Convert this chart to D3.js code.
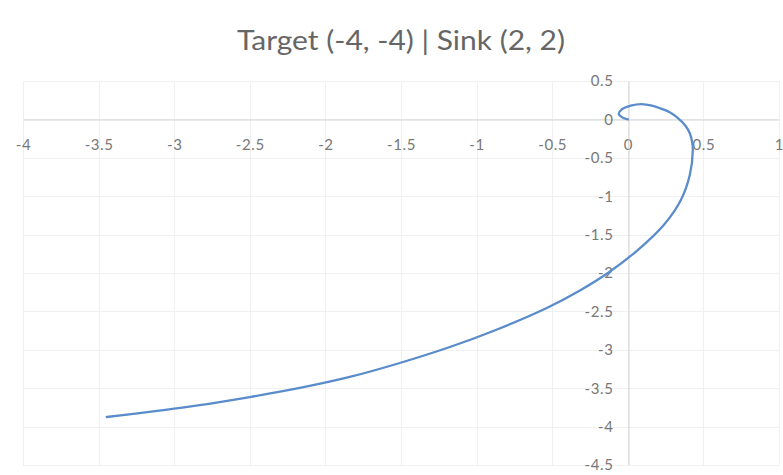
<!DOCTYPE html>
<html>
<head>
<meta charset="utf-8">
<script src="https://cdn.jsdelivr.net/npm/d3@7"></script>
<style>
  html, body { margin: 0; padding: 0; background: #fff; }
  svg { display: block; }
</style>
</head>
<body>
<svg id="chart" width="783" height="475"></svg>
<script>
// Trajectory of the particle, from the sink region out toward the target
const pathX = [0.00, -0.04, -0.06, -0.04, 0.02, 0.09, 0.16, 0.22, 0.28, 0.33, 0.38, 0.41, 0.425, 0.43, 0.41, 0.351, 0.238, 0.066, -0.132, -0.311, -0.536, -0.873, -1.177, -1.508, -1.839, -2.169, -2.50, -2.831, -3.446];
const pathY = [0.00, 0.03, 0.07, 0.13, 0.18, 0.20, 0.18, 0.14, 0.09, 0.02, -0.08, -0.18, -0.29, -0.398, -0.724, -1.049, -1.375, -1.701, -2.00, -2.221, -2.456, -2.742, -2.964, -3.172, -3.354, -3.497, -3.615, -3.719, -3.875];

const xTicks = [-4, -3.5, -3, -2.5, -2, -1.5, -1, -0.5, 0, 0.5, 1];
const yTicks = [0.5, 0, -0.5, -1, -1.5, -2, -2.5, -3, -3.5, -4, -4.5];

const titleText = "Target (-4, -4) | Sink (2, 2)";

const svg = d3.select("#chart");
const font = "Lato, 'Open Sans', sans-serif";

const x = d3.scaleLinear().domain([-4, 1]).range([23, 779]);
const y = d3.scaleLinear().domain([-4.5, 0.5]).range([465, 81]);

// gridlines
const grid = svg.append("g").attr("stroke", "#f0f0f0").attr("stroke-width", 1);
grid.selectAll("line.v").data(xTicks).join("line")
  .attr("x1", d => Math.round(x(d)) + 0.5).attr("x2", d => Math.round(x(d)) + 0.5)
  .attr("y1", y(0.5)).attr("y2", y(-4.5));
grid.selectAll("line.h").data(yTicks).join("line")
  .attr("y1", d => Math.round(y(d)) + 0.5).attr("y2", d => Math.round(y(d)) + 0.5)
  .attr("x1", x(-4)).attr("x2", x(1));

// axes crossing at the origin
const xAxis = d3.axisBottom(x).tickValues(xTicks).tickSize(0).tickPadding(20)
  .tickFormat(d => String(d));
const yAxis = d3.axisLeft(y).tickValues(yTicks).tickSize(0).tickPadding(15)
  .tickFormat(d => String(d));

const gx = svg.append("g").attr("transform", `translate(0,${Math.round(y(0)) + 0.5})`).call(xAxis);
const gy = svg.append("g").attr("transform", `translate(${Math.round(x(0)) + 0.5},0)`).call(yAxis);
[gx, gy].forEach(g => {
  g.select(".domain").attr("stroke", "#d4d4d4").attr("stroke-width", 1);
  g.selectAll("text")
    .attr("fill", "#787878")
    .attr("font-family", font)
    .attr("font-size", 15)
    .attr("letter-spacing", 0.6);
});

// trajectory line
const pts = pathX.map((v, i) => [v, pathY[i]]);
const line = d3.line().x(d => x(d[0])).y(d => y(d[1])).curve(d3.curveCatmullRom.alpha(0.5));
svg.append("path").datum(pts)
  .attr("d", line)
  .attr("fill", "none")
  .attr("stroke", "#5a8ccb")
  .attr("stroke-width", 2.3)
  .attr("stroke-linecap", "round");

// title
svg.append("text")
  .attr("x", 401).attr("y", 50)
  .attr("text-anchor", "middle")
  .attr("font-family", font)
  .attr("font-size", 27)
  .attr("textLength", 328)
  .attr("lengthAdjust", "spacingAndGlyphs")
  .attr("fill", "#666666")
  .text(titleText);
</script>
</body>
</html>
